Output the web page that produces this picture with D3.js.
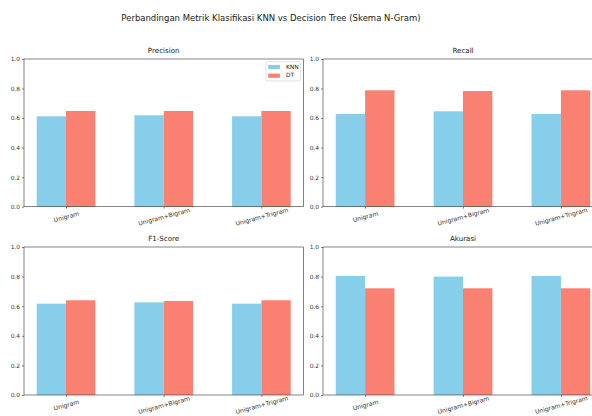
<!DOCTYPE html>
<html>
<head>
<meta charset="utf-8">
<script src="https://cdn.jsdelivr.net/npm/d3@7"></script>
<style>
  body { margin: 0; background: #fff; }
  svg { display: block; font-family: "DejaVu Sans", sans-serif; }
</style>
</head>
<body>
<div id="chart"></div>
<script>
const schemes = ['Unigram', 'Unigram+Bigram', 'Unigram+Trigram'];
const metrics = ['Precision', 'Recall', 'F1-Score', 'Akurasi'];
const knnValues = [
  [0.612, 0.619, 0.612],
  [0.628, 0.646, 0.628],
  [0.617, 0.626, 0.617],
  [0.804, 0.800, 0.804]
];
const dtValues = [
  [0.648, 0.648, 0.648],
  [0.788, 0.783, 0.788],
  [0.640, 0.635, 0.640],
  [0.721, 0.721, 0.721]
];
const yTicks = [0, 0.2, 0.4, 0.6, 0.8, 1.0];
const models = ['KNN', 'DT'];

const width = 592;
const height = 416;
const colors = { KNN: '#87CEEB', DT: '#FA8072' };
const barWidth = 0.3;

const svg = d3.select('#chart')
  .append('svg')
  .attr('width', width)
  .attr('height', height);

svg.append('text')
  .attr('x', 271)
  .attr('y', 18)
  .attr('text-anchor', 'middle')
  .attr('dominant-baseline', 'middle')
  .attr('font-size', 8.5)
  .attr('fill', '#222')
  .text('Perbandingan Metrik Klasifikasi KNN vs Decision Tree (Skema N-Gram)');

// panel boxes: [left, right] columns, [top, bottom] rows
const cols = [[24, 303.4], [323, 603]];
const rows = [[59, 206.7], [247, 395]];

metrics.forEach((metric, m) => {
  const [x0, x1] = cols[m % 2];
  const [y0, y1] = rows[Math.floor(m / 2)];

  const x = d3.scaleLinear().domain([-0.43, 2.43]).range([x0, x1]);
  const y = d3.scaleLinear().domain([0, 1]).range([y1, y0]);

  const g = svg.append('g');

  const data = schemes.map((s, i) => ({ i, knn: knnValues[m][i], dt: dtValues[m][i] }));

  g.selectAll('rect.knn')
    .data(data)
    .join('rect')
    .attr('x', d => x(d.i - barWidth))
    .attr('y', d => y(d.knn))
    .attr('width', x(barWidth) - x(0))
    .attr('height', d => y(0) - y(d.knn))
    .attr('fill', colors.KNN);

  g.selectAll('rect.dt')
    .data(data)
    .join('rect')
    .attr('x', d => x(d.i))
    .attr('y', d => y(d.dt))
    .attr('width', x(barWidth) - x(0))
    .attr('height', d => y(0) - y(d.dt))
    .attr('fill', colors.DT);

  // Axes
  const yAxis = g.append('g')
    .attr('transform', `translate(${x0},0)`)
    .call(d3.axisLeft(y).tickValues(yTicks).tickFormat(d3.format('.1f')).tickSize(2).tickPadding(2));

  const xAxis = g.append('g')
    .attr('transform', `translate(0,${y1})`)
    .call(d3.axisBottom(x).tickValues([0, 1, 2]).tickFormat(i => schemes[i]).tickSize(2));

  [yAxis, xAxis].forEach(a => {
    a.select('.domain').remove();
    a.selectAll('line').attr('stroke', '#333').attr('stroke-width', 0.6);
    a.selectAll('text').attr('font-size', 5.9).attr('fill', '#333').attr('font-family', '"DejaVu Sans", sans-serif');
  });

  xAxis.selectAll('text')
    .attr('font-size', 6.1)
    .attr('y', null)
    .attr('dy', null)
    .attr('dominant-baseline', 'middle')
    .attr('transform', 'translate(0,10.5) rotate(-15)');

  // spines
  g.append('rect')
    .attr('x', x0)
    .attr('y', y0)
    .attr('width', x1 - x0)
    .attr('height', y1 - y0)
    .attr('fill', 'none')
    .attr('stroke', '#333')
    .attr('stroke-width', 0.6);

  g.append('text')
    .attr('x', (x0 + x1) / 2)
    .attr('y', y0 - 6)
    .attr('text-anchor', 'middle')
    .attr('font-size', 7.1)
    .attr('fill', '#222')
    .text(metric);

  if (m === 0) {
    const lg = g.append('g').attr('transform', `translate(${x1 - 37.5},${y0 + 2.7})`);
    lg.append('rect')
      .attr('width', 34.7)
      .attr('height', 19.3)
      .attr('rx', 1.5)
      .attr('fill', '#fff')
      .attr('fill-opacity', 0.8)
      .attr('stroke', '#ccc')
      .attr('stroke-width', 0.6);
    models.forEach((name, k) => {
      lg.append('rect')
        .attr('x', 2.3)
        .attr('y', 3.2 + k * 8.7)
        .attr('width', 11.7)
        .attr('height', 4.2)
        .attr('fill', colors[name]);
      lg.append('text')
        .attr('x', 20)
        .attr('y', 5.3 + k * 8.7)
        .attr('dominant-baseline', 'middle')
        .attr('font-size', 5.9)
        .attr('fill', '#222')
        .text(name);
    });
  }
});
</script>
</body>
</html>
